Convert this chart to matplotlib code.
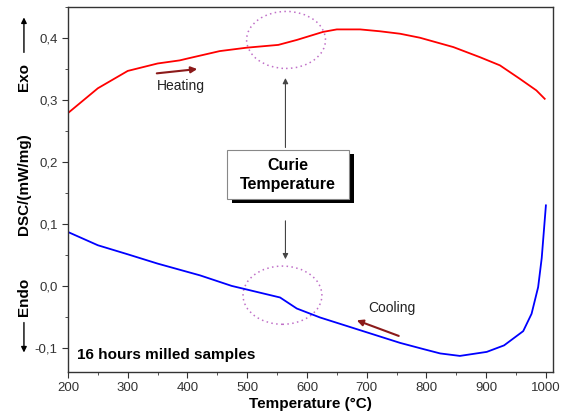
import matplotlib.pyplot as plt
from matplotlib.patches import Ellipse, Rectangle
from matplotlib.ticker import MultipleLocator, FuncFormatter

plt.rcParams['font.family'] = ['Liberation Sans', 'DejaVu Sans']

# heating run (red)
heat_T = [200, 250, 300, 350, 387, 400, 454, 499, 552, 583, 627, 650, 689, 722, 756,
          789, 845, 890, 923, 956, 984, 998]
heat_dsc = [0.279, 0.319, 0.347, 0.359, 0.364, 0.367, 0.379, 0.3845, 0.389, 0.397, 0.410,
            0.414, 0.414, 0.411, 0.407, 0.4006, 0.3855, 0.369, 0.356, 0.3345, 0.3156, 0.302]

# cooling run (blue)
cool_T = [200, 250, 300, 350, 400, 421, 474, 555, 583, 622, 689, 756, 795, 823, 856,
          901, 930, 962, 976, 987, 993, 1000]
cool_dsc = [0.087, 0.0656, 0.051, 0.036, 0.0226, 0.017, 0.0, -0.0187, -0.0365, -0.051,
            -0.0715, -0.092, -0.102, -0.109, -0.113, -0.1065, -0.096, -0.073, -0.045,
            -0.002, 0.045, 0.13]

fig = plt.figure(figsize=(5.7, 4.18), dpi=100)
ax = fig.add_axes([0.1193, 0.110, 0.851, 0.873])

ax.plot(heat_T, heat_dsc, color='#ff0000', lw=1.3)
ax.plot(cool_T, cool_dsc, color='#0000ff', lw=1.3)

ax.set_xlim(200, 1012)
ax.set_ylim(-0.139, 0.45)
ax.xaxis.set_major_locator(MultipleLocator(100))
ax.xaxis.set_minor_locator(MultipleLocator(50))
ax.yaxis.set_major_locator(MultipleLocator(0.1))
ax.yaxis.set_minor_locator(MultipleLocator(0.05))
ax.yaxis.set_major_formatter(FuncFormatter(lambda v, p: f'{v:.1f}'.replace('.', ',').replace('-0,0', '0,0')))
ax.tick_params(which='both', direction='out', top=False, right=False, labelsize=9.5,
               labelcolor='#333333', color='#333333')
ax.tick_params(which='major', length=4)
ax.tick_params(which='minor', length=2.5)
for s in ax.spines.values():
    s.set_color('#333333')
    s.set_linewidth(1.0)

ax.set_xlabel('Temperature (°C)', fontsize=11, fontweight='bold', labelpad=2)

# y label with Exo / Endo arrows
fig.text(0.042, 0.56, 'DSC/(mW/mg)', rotation=90, fontsize=11, fontweight='bold',
         ha='center', va='center')
fig.text(0.042, 0.815, 'Exo', rotation=90, fontsize=11, fontweight='bold',
         ha='center', va='center')
fig.text(0.042, 0.29, 'Endo', rotation=90, fontsize=11, fontweight='bold',
         ha='center', va='center')
fig.add_artist(plt.Annotation('', xy=(0.042, 0.965), xytext=(0.042, 0.868),
                              xycoords='figure fraction',
                              arrowprops=dict(arrowstyle='-|>', color='black', lw=1,
                                              mutation_scale=8)))
fig.add_artist(plt.Annotation('', xy=(0.042, 0.15), xytext=(0.042, 0.235),
                              xycoords='figure fraction',
                              arrowprops=dict(arrowstyle='-|>', color='black', lw=1,
                                              mutation_scale=8)))

# Curie temperature markers
ell_kw = dict(fill=False, edgecolor='#c070c8', lw=1.1, linestyle=(0, (1, 2.2)))
ax.add_patch(Ellipse((565, 0.397), 132, 0.092, **ell_kw))
ax.add_patch(Ellipse((559, -0.015), 132, 0.094, **ell_kw))

ax.add_patch(Rectangle((474, 0.1338), 205, 0.0786, facecolor='black', edgecolor='none', zorder=4))
ax.add_patch(Rectangle((465.6, 0.1403), 205, 0.0786, facecolor='white',
                       edgecolor='#888888', lw=0.8, zorder=5))
ax.text(568, 0.1796, 'Curie\nTemperature', fontsize=11.5, fontweight='bold',
        ha='center', va='center', linespacing=1.35, zorder=6)

ax.annotate('', xy=(564, 0.340), xytext=(564, 0.2189),
            arrowprops=dict(arrowstyle='-|>', color='#444444', lw=0.8, mutation_scale=8))
ax.annotate('', xy=(564, 0.0386), xytext=(564, 0.1095),
            arrowprops=dict(arrowstyle='-|>', color='#444444', lw=0.8, mutation_scale=8))

# direction of the runs
ax.annotate('', xy=(421, 0.3505), xytext=(344, 0.3426),
            arrowprops=dict(arrowstyle='-|>', color='#8b1a1a', lw=1.5, mutation_scale=9))
ax.text(349, 0.322, 'Heating', fontsize=10, color='#222222', ha='left', va='center')
ax.annotate('', xy=(679, -0.054), xytext=(758, -0.0823),
            arrowprops=dict(arrowstyle='-|>', color='#8b1a1a', lw=1.5, mutation_scale=9))
ax.text(702, -0.036, 'Cooling', fontsize=10, color='#222222', ha='left', va='center')

ax.text(215, -0.112, '16 hours milled samples', fontsize=11, fontweight='bold',
        ha='left', va='center')

fig.savefig('out.png', dpi=100)
